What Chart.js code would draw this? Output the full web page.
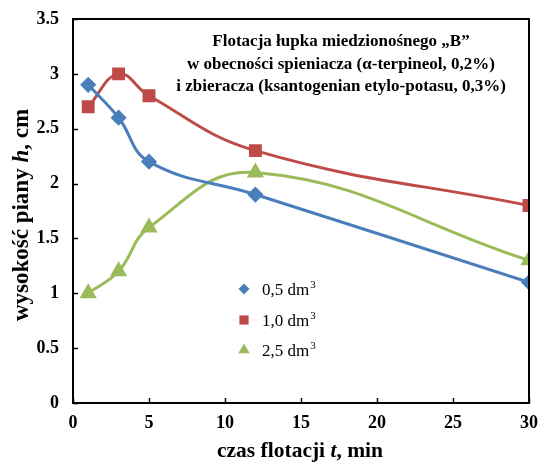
<!DOCTYPE html>
<html><head><meta charset="utf-8">
<script src="https://cdn.jsdelivr.net/npm/chart.js@4/dist/chart.umd.min.js"></script>
<style>html,body{margin:0;padding:0;background:#fff}#wrap{width:541px;height:464px}</style>
</head><body><div id="wrap"><canvas id="c" width="541" height="464"></canvas></div>
<script>
const times = [1, 3, 5, 12, 30];
const series05 = [2.9, 2.6, 2.2, 1.9, 1.1];
const series10 = [2.7, 3.0, 2.8, 2.3, 1.8];
const series25 = [1.0, 1.2, 1.6, 2.1, 1.3];
const seriesLabels = ['0,5 dm', '1,0 dm', '2,5 dm'];
const xTicks = [0, 5, 10, 15, 20, 25, 30];
const yTicks = [0, 0.5, 1, 1.5, 2, 2.5, 3, 3.5];
const titleLines = ['Flotacja łupka miedzionośnego „B”', 'w obecności spieniacza (α-terpineol, 0,2%)', 'i zbieracza (ksantogenian etylo-potasu, 0,3%)'];

const toPts = v => times.map((t, i) => ({x: t, y: v[i]}));
const SERIF = '"Liberation Serif","Times New Roman",serif';
const colors = ['#4A7EBB', '#BE4B48', '#9BBB59'];
const styles = ['rectRot', 'rect', 'triangle'];
const radii = [6, 7, 7];

const ds = [series05, series10, series25].map((v, i) => ({
  label: seriesLabels[i], data: toPts(v), borderColor: colors[i], backgroundColor: colors[i],
  pointStyle: styles[i], pointRadius: radii[i], pointHoverRadius: radii[i], borderWidth: 3, tension: 0.42, fill: false
}));

const deco = {
  id: 'deco',
  afterDraw(chart) {
    const ctx = chart.ctx, a = chart.chartArea, xs = chart.scales.x, ys = chart.scales.y;
    ctx.save();
    ctx.strokeStyle = '#000'; ctx.lineWidth = 2;
    ctx.strokeRect(a.left, a.top, a.right - a.left, a.bottom - a.top);
    ctx.lineWidth = 1.5;
    ctx.beginPath();
    xTicks.forEach(t => { const px = Math.round(xs.getPixelForValue(t)) + 0.5; ctx.moveTo(px, a.bottom); ctx.lineTo(px, a.bottom - 5); });
    yTicks.forEach(t => { const py = Math.round(ys.getPixelForValue(t)) + 0.5; ctx.moveTo(a.left, py); ctx.lineTo(a.left + 5, py); });
    ctx.stroke();
    // title box
    ctx.fillStyle = '#000'; ctx.textAlign = 'center'; ctx.textBaseline = 'middle';
    ctx.font = 'bold 17px ' + SERIF;
    titleLines.forEach((l, i) => ctx.fillText(l, 341, 42 + i * 22.5));
    // legend
    const rows = [289, 320, 350];
    ds.forEach((d, i) => {
      ctx.fillStyle = d.backgroundColor;
      ctx.strokeStyle = d.backgroundColor;
      Chart.helpers.drawPoint(ctx, {pointStyle: d.pointStyle, radius: d.pointRadius - 0.5, borderWidth: 0}, 244, rows[i]);
      ctx.fillStyle = '#000'; ctx.textAlign = 'left'; ctx.textBaseline = 'middle';
      ctx.font = '17px ' + SERIF;
      ctx.fillText(d.label, 262, rows[i] + 2);
      const w = ctx.measureText(d.label).width;
      ctx.font = '11px ' + SERIF;
      ctx.fillText('3', 262 + w + 1, rows[i] - 4);
    });
    // axis titles
    const drawParts = (parts, cx, cy, rot, size) => {
      ctx.save(); ctx.translate(cx, cy); ctx.rotate(rot);
      let tot = 0;
      parts.forEach(p => { ctx.font = p[1] + ' ' + size + 'px ' + SERIF; tot += ctx.measureText(p[0]).width; });
      let x = -tot / 2; ctx.textAlign = 'left'; ctx.textBaseline = 'middle';
      parts.forEach(p => { ctx.font = p[1] + ' ' + size + 'px ' + SERIF; ctx.fillText(p[0], x, 0); x += ctx.measureText(p[0]).width; });
      ctx.restore();
    };
    drawParts([['czas flotacji ', 'bold'], ['t', 'italic bold'], [', min', 'bold']], 300, 451, 0, 21.5);
    drawParts([['wysokość piany ', 'bold'], ['h', 'italic bold'], [', cm', 'bold']], 22, 215, -Math.PI / 2, 23);
    ctx.restore();
  }
};

new Chart(document.getElementById('c'), {
  type: 'line',
  data: { datasets: ds },
  options: {
    responsive: false, animation: false,
    layout: { padding: { top: 19, right: 12, left: 0, bottom: 0 } },
    plugins: { legend: { display: false }, tooltip: { enabled: false } },
    scales: {
      x: { type: 'linear', min: 0, max: 30,
        afterBuildTicks: s => { s.ticks = xTicks.map(v => ({value: v})); },
        afterFit: s => { s.height = 61; s.paddingLeft = 0; s.paddingRight = 0; },
        grid: { display: false, drawTicks: false }, border: { display: false },
        ticks: { color: '#000', font: { family: SERIF, size: 18, weight: 'bold' }, padding: 10, maxRotation: 0, autoSkip: false, callback: v => String(v) } },
      y: { min: 0, max: 3.5,
        afterBuildTicks: s => { s.ticks = yTicks.map(v => ({value: v})); },
        afterFit: s => { s.width = 73; s.paddingTop = 0; s.paddingBottom = 0; },
        grid: { display: false, drawTicks: false }, border: { display: false },
        ticks: { color: '#000', font: { family: SERIF, size: 18, weight: 'bold' }, padding: 14, autoSkip: false, callback: v => String(v) } }
    }
  },
  plugins: [deco]
});
</script></body></html>
